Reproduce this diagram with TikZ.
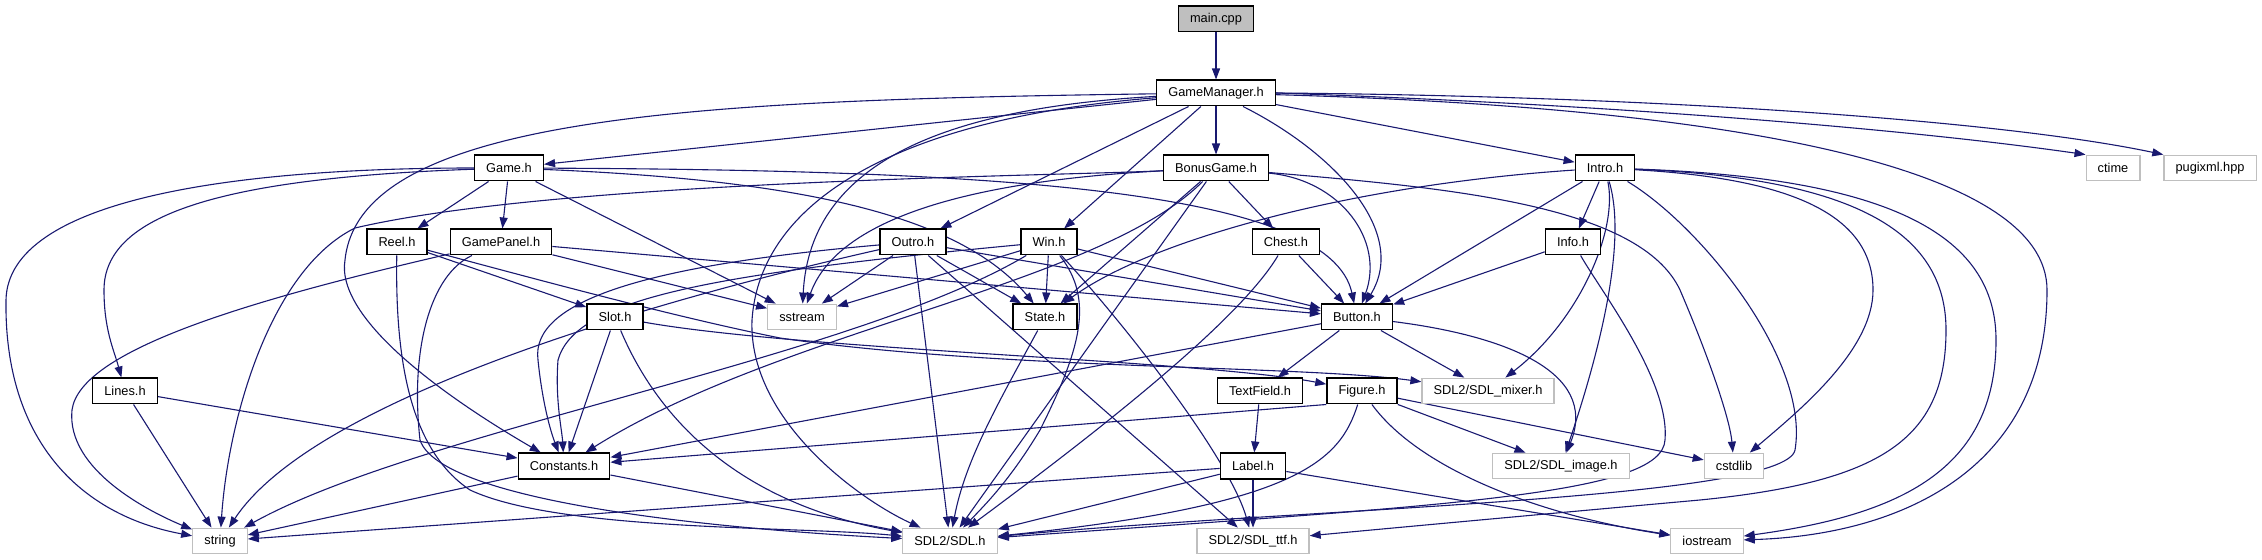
\documentclass[tikz,border=0pt]{standalone}
\usepackage{fontspec}
\setmainfont{Liberation Sans}
\usetikzlibrary{arrows.meta}
\definecolor{edgeblue}{HTML}{191970}
\definecolor{extgray}{HTML}{BFBFBF}
\pgfdeclarelayer{edges}
\pgfsetlayers{edges,main}

\begin{document}
\begin{tikzpicture}[
    x=0.5pt, y=-0.5pt,
    hdr/.style={draw=black, line width=0.7pt, fill=white, minimum height=12.8pt, inner xsep=5.8pt, inner ysep=0pt, font=\fontsize{6.4}{7.5}\selectfont},
    sys/.style={hdr, draw=extgray, line width=0.6pt},
    root/.style={hdr, fill=extgray},
    dep/.style={->, draw=edgeblue, line width=0.55pt},
    >={Triangle[length=5.5pt,width=4pt]}
]
    \useasboundingbox (0,0) rectangle (2262,560);

    % Headers of the project
    \node[root] (main) at (1216,19) {main.cpp};
    \node[hdr] (gm) at (1216,93) {GameManager.h};
    \node[hdr] (game) at (509,168) {Game.h};
    \node[hdr] (bonus) at (1216,168) {BonusGame.h};
    \node[hdr] (intro) at (1605,168) {Intro.h};
    \node[hdr] (reel) at (397,242) {Reel.h};
    \node[hdr] (panel) at (501,242) {GamePanel.h};
    \node[hdr] (outro) at (913,242) {Outro.h};
    \node[hdr] (win) at (1049,242) {Win.h};
    \node[hdr] (chest) at (1286,242) {Chest.h};
    \node[hdr] (info) at (1573,242) {Info.h};
    \node[hdr] (slot) at (615,317) {Slot.h};
    \node[hdr] (state) at (1045,317) {State.h};
    \node[hdr] (button) at (1357,317) {Button.h};
    \node[hdr] (lines) at (125,391) {Lines.h};
    \node[hdr] (textfield) at (1260,391) {TextField.h};
    \node[hdr] (figure) at (1362,391) {Figure.h};
    \node[hdr] (constants) at (564,466) {Constants.h};
    \node[hdr] (label) at (1253,466) {Label.h};

    % System headers
    \node[sys] (ctime) at (2113,168) {ctime};
    \node[sys] (pugi) at (2210,168) {pugixml.hpp};
    \node[sys] (sstream) at (802,317) {sstream};
    \node[sys] (mixer) at (1488,391) {SDL2/SDL\_mixer.h};
    \node[sys] (image) at (1561,466) {SDL2/SDL\_image.h};
    \node[sys] (cstdlib) at (1734,466) {cstdlib};
    \node[sys] (string) at (220,541) {string};
    \node[sys] (sdl) at (950,541) {SDL2/SDL.h};
    \node[sys] (ttf) at (1253,541) {SDL2/SDL\_ttf.h};
    \node[sys] (iostream) at (1707,541) {iostream};

    \begin{pgfonlayer}{edges}
    % main.cpp and GameManager.h
    \draw[dep] (main) -- (gm);
    \draw[dep] (gm) -- (game);
    \draw[dep] (gm) -- (bonus);
    \draw[dep] (gm) -- (intro);
    \draw[dep] (gm) -- (outro);
    \draw[dep] (gm) -- (win);
    \draw[dep] (gm.east) .. controls (1600,104) and (1900,128) .. (ctime.north west);
    \draw[dep] (gm.east) .. controls (1650,96) and (2000,120) .. (pugi.north west);
    \draw[dep] (gm) .. controls (700,100) and (360,115) .. (345,260) .. controls (335,320) and (450,400) .. (constants);
    \draw[dep] (gm) .. controls (900,118) and (760,200) .. (752,320) .. controls (748,420) and (860,500) .. (sdl);
    \draw[dep] (gm) .. controls (950,108) and (810,160) .. (sstream);
    \draw[dep] (gm) .. controls (1330,150) and (1410,230) .. (button);
    \draw[dep] (gm) .. controls (1750,108) and (2047,170) .. (2047,290) .. controls (2047,470) and (1900,535) .. (iostream);

    % Game.h
    \draw[dep] (game) -- (reel);
    \draw[dep] (game) -- (panel);
    \draw[dep] (game) .. controls (220,178) and (104,215) .. (104,290) .. controls (104,330) and (114,350) .. (lines);
    \draw[dep] (game) .. controls (230,168) and (8,200) .. (6,300) .. controls (4,440) and (80,515) .. (string);
    \draw[dep] (game) -- (sstream);
    \draw[dep] (game) .. controls (800,180) and (960,215) .. (state);
    \draw[dep] (game) .. controls (1000,170) and (1330,190) .. (button);

    % BonusGame.h
    \draw[dep] (bonus) -- (chest);
    \draw[dep] (bonus) .. controls (1340,180) and (1385,240) .. (button);
    \draw[dep] (bonus) -- (state);
    \draw[dep] (bonus) .. controls (950,182) and (835,225) .. (sstream);
    \draw[dep] (bonus) .. controls (1100,285) and (780,330) .. (constants);
    \draw[dep] (bonus) -- (sdl);
    \draw[dep] (bonus) .. controls (1450,188) and (1640,205) .. (1680,290) .. controls (1710,360) and (1730,420) .. (cstdlib);
    \draw[dep] (bonus) .. controls (1060,176) and (560,180) .. (355,228) .. controls (270,270) and (228,420) .. (string);

    % Intro.h
    \draw[dep] (intro) -- (info);
    \draw[dep] (intro) -- (button);
    \draw[dep] (intro) .. controls (1350,185) and (1150,240) .. (state);
    \draw[dep] (intro) .. controls (1618,230) and (1580,320) .. (mixer);
    \draw[dep] (intro) .. controls (1630,250) and (1590,380) .. (image);
    \draw[dep] (intro) .. controls (1700,225) and (1810,360) .. (1795,450) .. controls (1785,500) and (1300,508) .. (sdl);
    \draw[dep] (intro) .. controls (1780,178) and (1873,210) .. (1873,290) .. controls (1873,350) and (1800,410) .. (cstdlib);
    \draw[dep] (intro) .. controls (1850,178) and (1946,230) .. (1946,330) .. controls (1946,440) and (1880,482) .. (1700,500) .. controls (1500,518) and (1350,532) .. (ttf);
    \draw[dep] (intro) .. controls (1900,178) and (1996,240) .. (1996,340) .. controls (1996,470) and (1900,515) .. (iostream);

    % Reel.h and GamePanel.h
    \draw[dep] (reel) -- (slot);
    \draw[dep] (reel) .. controls (395,360) and (410,450) .. (470,490) .. controls (560,532) and (800,526) .. (sdl);
    \draw[dep] (reel) .. controls (550,283) and (680,318) .. (780,338) .. controls (1000,370) and (1300,365) .. (mixer);
    \draw[dep] (panel) .. controls (250,300) and (80,350) .. (72,410) .. controls (66,470) and (150,512) .. (string);
    \draw[dep] (panel) .. controls (430,275) and (410,350) .. (420,440) .. controls (440,500) and (700,528) .. (sdl);
    \draw[dep] (panel) -- (sstream);
    \draw[dep] (panel) -- (button);

    % Outro.h and Win.h
    \draw[dep] (outro) -- (button);
    \draw[dep] (outro) -- (state);
    \draw[dep] (outro) -- (sstream);
    \draw[dep] (outro) .. controls (700,290) and (320,390) .. (string);
    \draw[dep] (outro) .. controls (650,265) and (530,300) .. (538,360) .. controls (542,400) and (550,430) .. (constants);
    \draw[dep] (outro) -- (sdl);
    \draw[dep] (outro) -- (ttf);
    \draw[dep] (win) -- (button);
    \draw[dep] (win) -- (state);
    \draw[dep] (win) -- (sstream);
    \draw[dep] (win) .. controls (850,360) and (420,430) .. (string);
    \draw[dep] (win) .. controls (700,275) and (575,300) .. (558,360) .. controls (555,400) and (562,430) .. (constants);
    \draw[dep] (win) .. controls (1095,300) and (1080,350) .. (1040,430) .. controls (1010,480) and (985,505) .. (sdl);
    \draw[dep] (win) .. controls (1130,330) and (1230,460) .. (ttf);

    % Chest.h and Info.h
    \draw[dep] (chest) -- (button);
    \draw[dep] (chest) .. controls (1240,320) and (1100,430) .. (sdl);
    \draw[dep] (info) -- (button);
    \draw[dep] (info) .. controls (1600,290) and (1670,380) .. (1665,440) .. controls (1662,495) and (1450,505) .. (sdl);

    % Slot.h, State.h, Button.h
    \draw[dep] (slot) .. controls (800,350) and (1200,360) .. (figure);
    \draw[dep] (slot) -- (constants);
    \draw[dep] (slot) .. controls (650,400) and (720,500) .. (sdl);
    \draw[dep] (state) .. controls (1000,400) and (965,460) .. (sdl);
    \draw[dep] (button) -- (textfield);
    \draw[dep] (button) -- (mixer);
    \draw[dep] (button) .. controls (1500,335) and (1600,370) .. (image);
    \draw[dep] (button) -- (constants);

    % Lines.h, TextField.h, Figure.h
    \draw[dep] (lines) -- (constants);
    \draw[dep] (lines) -- (string);
    \draw[dep] (textfield) -- (label);
    \draw[dep] (figure.south west) -- (constants);
    \draw[dep] (figure) .. controls (1340,460) and (1300,505) .. (sdl);
    \draw[dep] (figure) -- (image);
    \draw[dep] (figure) -- (cstdlib);
    \draw[dep] (figure) .. controls (1420,470) and (1540,515) .. (iostream);

    % Label.h and Constants.h
    \draw[dep] (label) -- (string);
    \draw[dep] (label) -- (sdl);
    \draw[dep] (label) -- (ttf);
    \draw[dep] (label) -- (iostream);
    \draw[dep] (constants) -- (string);
    \draw[dep] (constants) -- (sdl);
    \end{pgfonlayer}
\end{tikzpicture}
\end{document}
